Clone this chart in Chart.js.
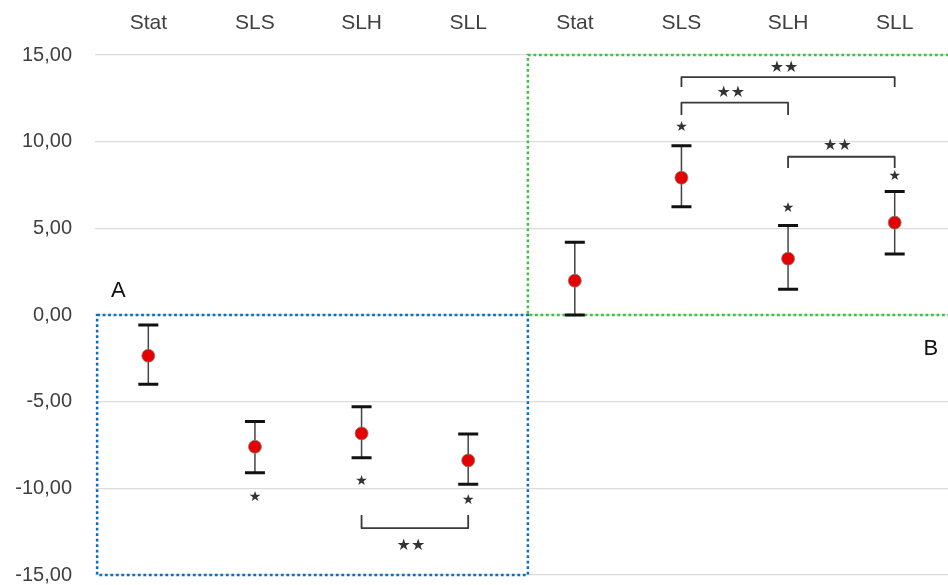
<!DOCTYPE html>
<html>
<head>
<meta charset="utf-8">
<script src="https://cdn.jsdelivr.net/npm/chart.js@4"></script>
<style>
  html, body { margin: 0; padding: 0; background: #fff; }
  canvas { display: block; }
</style>
</head>
<body>
<canvas id="chart" width="948" height="585"></canvas>
<script>
const categories = ["Stat", "SLS", "SLH", "SLL", "Stat", "SLS", "SLH", "SLL"];
const means = [-2.35, -7.6, -6.83, -8.39, 1.98, 7.92, 3.25, 5.33];
const errLow = [-4.0, -9.1, -8.23, -9.77, 0.0, 6.25, 1.48, 3.52];
const errHigh = [-0.58, -6.15, -5.29, -6.87, 4.2, 9.77, 5.17, 7.12];
const yTicks = [-15, -10, -5, 0, 5, 10, 15];

// significance marks, in category index / value units
const singleStars = [
  { i: 1, y: -10.5 }, { i: 2, y: -9.58 }, { i: 3, y: -10.67 },
  { i: 5, y: 10.8 }, { i: 6, y: 6.13 }, { i: 7, y: 8.02 },
];
const brackets = [
  { from: 2, to: 3, bar: -12.29, tip: -11.54, label: -13.3 },
  { from: 5, to: 7, bar: 13.72, tip: 13.16, label: 14.25 },
  { from: 5, to: 6, bar: 12.25, tip: 11.54, label: 12.8 },
  { from: 6, to: 7, bar: 9.13, tip: 8.48, label: 9.75 },
];
const panels = [
  { text: "A", x: -0.28, y: 1.38, color: "#0a6fc2", x0: -0.48, x1: 3.56, y0: 0, y1: -15 },
  { text: "B", x: 7.34, y: -1.96, color: "#3cc43c", x0: 3.56, x1: 7.7, y0: 15, y1: 0 },
];

const fmt = (v) => v.toFixed(2).replace(".", ",");

const overlay = {
  id: "overlay",
  beforeDatasetsDraw(chart) {
    const { ctx, scales: { x, y }, chartArea } = chart;
    ctx.save();
    // dotted panels
    ctx.lineWidth = 2.5;
    ctx.setLineDash([2.8, 2.7]);
    panels.forEach((p) => {
      const l = Math.max(x.getPixelForValue(p.x0), chartArea.left + 2);
      const r = x.getPixelForValue(p.x1);
      ctx.strokeStyle = p.color;
      ctx.strokeRect(l, y.getPixelForValue(p.y0), r - l, y.getPixelForValue(p.y1) - y.getPixelForValue(p.y0));
    });
    ctx.setLineDash([]);
    // error bars
    means.forEach((m, i) => {
      const px = x.getPixelForValue(i);
      const lo = y.getPixelForValue(errLow[i]);
      const hi = y.getPixelForValue(errHigh[i]);
      ctx.strokeStyle = "#444";
      ctx.lineWidth = 1.5;
      ctx.beginPath();
      ctx.moveTo(px, lo);
      ctx.lineTo(px, hi);
      ctx.stroke();
      ctx.strokeStyle = "#111";
      ctx.lineWidth = 3;
      ctx.beginPath();
      ctx.moveTo(px - 10, lo);
      ctx.lineTo(px + 10, lo);
      ctx.moveTo(px - 10, hi);
      ctx.lineTo(px + 10, hi);
      ctx.stroke();
    });
    ctx.restore();
  },
  afterDatasetsDraw(chart) {
    const { ctx, scales: { x, y } } = chart;
    ctx.save();
    ctx.textAlign = "center";
    ctx.textBaseline = "middle";
    ctx.fillStyle = "#333";
    ctx.font = "14px 'DejaVu Sans'";
    singleStars.forEach((s) => ctx.fillText("\u2605", x.getPixelForValue(s.i), y.getPixelForValue(s.y)));
    ctx.strokeStyle = "#3a3a3a";
    ctx.lineWidth = 1.8;
    ctx.lineJoin = "round";
    brackets.forEach((b) => {
      const a = x.getPixelForValue(b.from);
      const c = x.getPixelForValue(b.to);
      const tip = y.getPixelForValue(b.tip);
      const bar = y.getPixelForValue(b.bar);
      ctx.beginPath();
      ctx.moveTo(a, tip);
      ctx.lineTo(a, bar);
      ctx.lineTo(c, bar);
      ctx.lineTo(c, tip);
      ctx.stroke();
      ctx.font = "16px 'DejaVu Sans'";
      ctx.fillText("\u2605\u2605", (a + c) / 2 - 4, y.getPixelForValue(b.label));
    });
    ctx.fillStyle = "#111";
    ctx.font = "22px 'Liberation Sans', Arial";
    panels.forEach((p) => ctx.fillText(p.text, x.getPixelForValue(p.x), y.getPixelForValue(p.y)));
    ctx.restore();
  },
};

new Chart(document.getElementById("chart"), {
  type: "line",
  data: {
    labels: categories,
    datasets: [{
      data: means,
      showLine: false,
      pointRadius: 6.5,
      pointBackgroundColor: "#e60000",
      pointBorderColor: "rgba(130,130,130,0.8)",
      pointBorderWidth: 1,
    }],
  },
  options: {
    responsive: false,
    animation: false,
    layout: { autoPadding: false, padding: { top: 0, right: 0, bottom: 10, left: 0 } },
    plugins: { legend: { display: false }, tooltip: { enabled: false } },
    scales: {
      x: {
        position: "top",
        offset: true,
        grid: { display: false },
        border: { display: false },
        ticks: { color: "#404040", font: { family: "'Liberation Sans', Arial", size: 21 }, padding: 11, maxRotation: 0, autoSkip: false },
        afterFit: (scale) => {
          scale.height = 55;
          scale.paddingLeft = 0;
          scale.paddingRight = 0;
        },
      },
      y: {
        min: -15,
        max: 15,
        afterBuildTicks: (scale) => { scale.ticks = yTicks.map((v) => ({ value: v })); },
        grid: { color: "#dcdcdc", lineWidth: 1.2, drawTicks: false },
        border: { display: false },
        ticks: { color: "#404040", font: { family: "'Liberation Sans', Arial", size: 20 }, padding: 23, callback: (v) => fmt(v) },
        afterFit: (scale) => {
          scale.width = 95;
          scale.paddingTop = 0;
          scale.paddingBottom = 0;
        },
      },
    },
  },
  plugins: [overlay],
});
</script>
</body>
</html>
